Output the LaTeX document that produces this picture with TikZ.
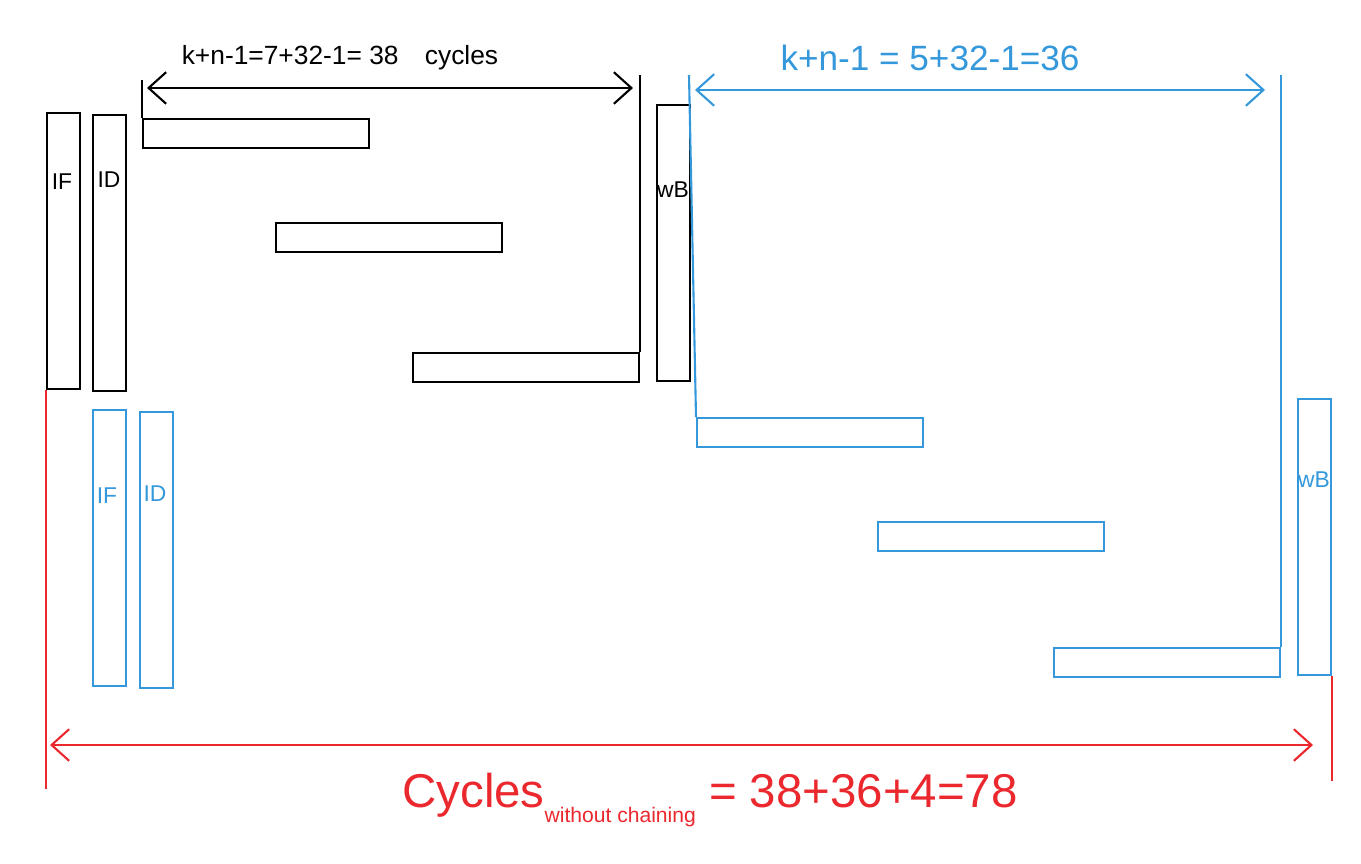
\documentclass[tikz,border=0pt]{standalone}
\usepackage{fontspec}
\setmainfont{Liberation Sans}
\usetikzlibrary{arrows.meta}

\definecolor{penblue}{RGB}{52,152,219}
\definecolor{penred}{RGB}{235,40,45}

\begin{document}
\begin{tikzpicture}[x=0.02cm, y=-0.02cm, line width=1.2pt,
    stage/.style={draw, rectangle, inner sep=0pt, anchor=north west,
        minimum width=0.66cm, minimum height=5.52cm},
    bar/.style={draw, rectangle, inner sep=0pt, anchor=north west,
        minimum width=4.52cm, minimum height=0.58cm},
    tag/.style={font=\fontsize{13}{13}\selectfont, inner sep=0pt},
    span/.style={{Straight Barb[length=10pt,width=18pt]}-{Straight Barb[length=10pt,width=18pt]}}]
    \useasboundingbox (0,0) rectangle (1361,864);

    % Nodes (first instruction)
    \node[stage] (if1) at (46,112) {};
    \node[stage] (id1) at (92,114) {};
    \node[stage] (wb1) at (656,104) {};
    \node[tag] (if1t) at (62,182) {IF};
    \node[tag] (id1t) at (109,180) {ID};
    \node[tag] (wb1t) at (673,190) {wB};
    \node[bar] (b1) at (142,118) {};
    \node[bar] (b2) at (275,222) {};
    \node[bar] (b3) at (412,352) {};

    % Nodes (second instruction)
    \begin{scope}[penblue]
        \node[stage] (if2) at (92,409) {};
        \node[stage] (id2) at (139,411) {};
        \node[stage] (wb2) at (1297,398) {};
        \node[tag] (if2t) at (107,496) {IF};
        \node[tag] (id2t) at (155,494) {ID};
        \node[tag] (wb2t) at (1314,480) {wB};
        \node[bar] (c1) at (696,417) {};
        \node[bar] (c2) at (877,521) {};
        \node[bar] (c3) at (1053,647) {};
    \end{scope}

    % Dimension lines
    \coordinate (la) at (147,88);
    \coordinate (lb) at (633,88);
    \coordinate (ma) at (695,90);
    \coordinate (mb) at (1265,90);
    \coordinate (ra) at (50,745);
    \coordinate (rb) at (1313,745);

    \draw (b1.north west) -- ++(0,-38);
    \draw (b3.north east) -- ++(0,-277);
    \draw[span] (la) -- (lb);
    \node[font=\fontsize{15}{15}\selectfont] (lt) at (340,58) {k+n-1=7+32-1= 38\quad cycles};

    \draw[penblue] (c1.north west) -- (689,75);
    \draw[penblue] (c3.north east) -- ++(0,-572);
    \draw[span, penblue] (ma) -- (mb);
    \node[penblue, font=\fontsize{20}{20}\selectfont] (mt) at (930,58) {k+n-1 = 5+32-1=36};

    \draw[penred] (if1.south west) -- ++(0,399);
    \draw[penred] (wb2.south east) -- ++(0,105);
    \draw[span, penred] (ra) -- (rb);
    \node[penred, font=\fontsize{27}{27}\selectfont] (rt) at (710,800)
        {Cycles{\fontsize{12}{12}\selectfont\raisebox{-9pt}{without chaining}} = 38+36+4=78};
\end{tikzpicture}
\end{document}
